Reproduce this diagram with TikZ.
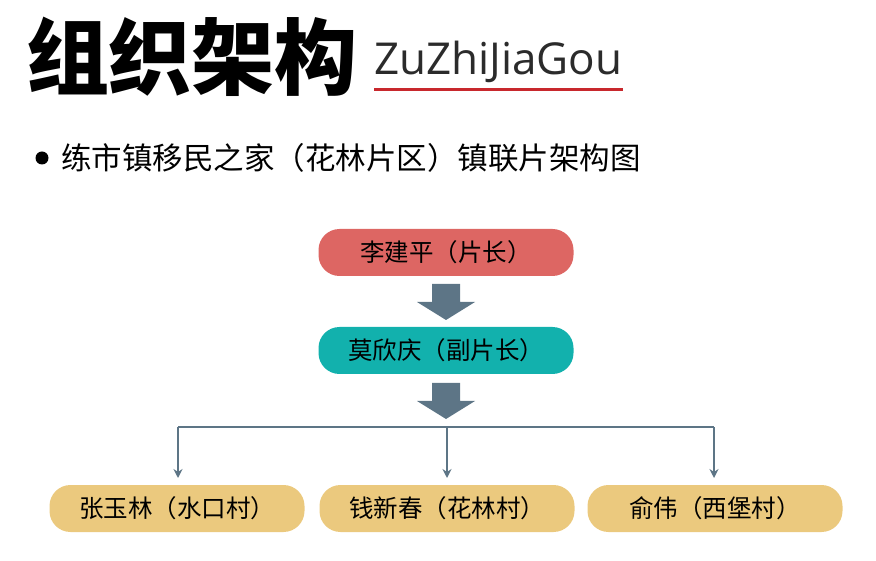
\documentclass[tikz,border=0pt]{standalone}
\usepackage{fontspec}
\setmainfont{Open Sans}
\newfontfamily\cjk{Noto Sans CJK SC}
\usetikzlibrary{arrows.meta}
\definecolor{headred}{HTML}{DD6663}
\definecolor{deputyteal}{HTML}{12B1AD}
\definecolor{villagegold}{HTML}{EBC97E}
\definecolor{linkslate}{HTML}{5D7586}
\definecolor{rulered}{HTML}{C8282D}
\definecolor{latin}{HTML}{2B2B2B}
\tikzset{
  pill/.style={rounded corners=21pt, minimum height=47pt, minimum width=255pt,
    inner sep=0pt, font=\cjk\fontsize{24.5}{28}\selectfont, text=black},
  blockfill/.style={fill=linkslate, draw=none},
  branch/.style={draw=linkslate, line width=1.8pt},
  drop/.style={draw=linkslate, line width=1.8pt, -{Stealth[length=9pt,width=9pt]}}
}
\begin{document}
\begin{tikzpicture}[x=1pt,y=-1pt]
\useasboundingbox (0,0) rectangle (876,561);

% heading
\node[anchor=center, inner sep=0pt, font=\cjk\bfseries\fontsize{83}{83}\selectfont] (title) at (192,57) {组织架构};
\node[anchor=base west, inner sep=0pt, text=latin, font=\fontsize{44}{44}\selectfont] (roman) at (374,75) {ZuZhiJiaGou};
\draw[rulered, line width=3pt] (roman.south west |- 0,89.5) coordinate (ruleA) -- (roman.south east |- 0,89.5) coordinate (ruleB);

% subtitle
\fill (42,158) circle (6.5pt);
\node[anchor=west, inner sep=0pt, font=\cjk\fontsize{30.5}{32}\selectfont] (sub) at (61,158) {练市镇移民之家（花林片区）镇联片架构图};

% hierarchy
\node[pill, fill=headred] (chief) at (446,252.5) {李建平（片长）};
\node[pill, fill=deputyteal] (deputy) at (446,350.5) {莫欣庆（副片长）};
\node[pill, fill=villagegold] (v1) at (177,508.5) {张玉林（水口村）};
\node[pill, fill=villagegold] (v2) at (447,508.5) {钱新春（花林村）};
\node[pill, fill=villagegold] (v3) at (715,508.5) {俞伟（西堡村）};

% block arrows between the ranks
\coordinate (a1) at (446,284);
\coordinate (a2) at (446,383);
\foreach \c in {a1,a2}
  \fill[blockfill] ([xshift=-14pt]\c) -- ([xshift=14pt]\c) -- ([xshift=14pt,yshift=-18pt]\c)
    -- ([xshift=29pt,yshift=-18pt]\c) -- ([yshift=-36pt]\c) -- ([xshift=-29pt,yshift=-18pt]\c)
    -- ([xshift=-14pt,yshift=-18pt]\c) -- cycle;

% branches to the villages
\coordinate (hubL) at (178,427);
\coordinate (hubM) at (447,427);
\coordinate (hubR) at (714,427);
\draw[branch] (hubL) -- (hubR);
\draw[drop] (hubL) -- (hubL |- 0,478);
\draw[drop] (hubM) -- (hubM |- 0,478);
\draw[drop] (hubR) -- (hubR |- 0,478);
\end{tikzpicture}
\end{document}
